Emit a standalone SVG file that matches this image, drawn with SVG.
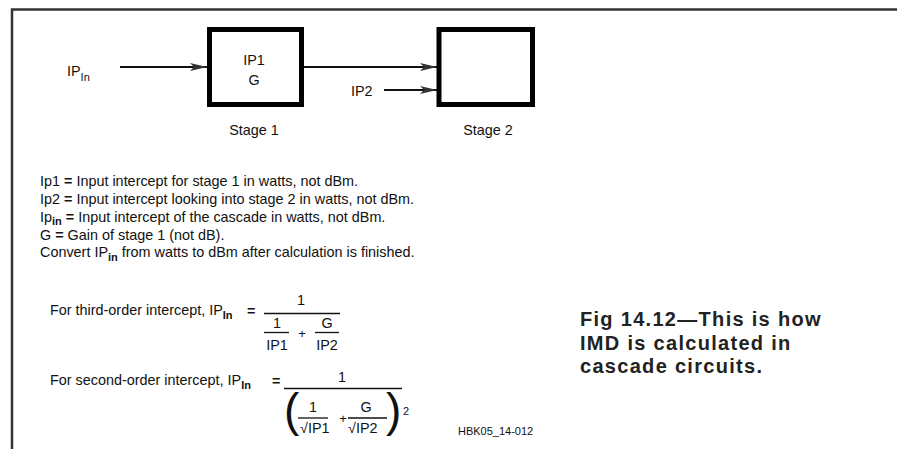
<svg xmlns="http://www.w3.org/2000/svg" width="897" height="449" viewBox="0 0 897 449">
<defs>
<style>
text{font-family:"Liberation Sans",Arial,sans-serif;fill:#111;}
.t{font-size:14.4px;}
.s{font-size:11px;}
.p{font-size:13px;}
.b{font-weight:bold;}
.box{fill:#fff;stroke:#000;stroke-width:5;}
.wire{stroke:#111;stroke-width:2;fill:none;}
.frac{stroke:#111;stroke-width:1.3;}
.cap{font-size:20px;font-weight:bold;letter-spacing:1.3px;fill:#222;}
</style>
<marker id="arr" viewBox="0 0 17 8" refX="17" refY="4" markerWidth="17" markerHeight="8" markerUnits="userSpaceOnUse" orient="auto">
<path d="M0,0 L17,4 L0,8 L4,4 z" fill="#333"/>
</marker>
</defs>
<rect width="897" height="449" fill="#fff"/>
<g id="frame">
<path d="M12,449 V9.5 H897" fill="none" stroke="#333" stroke-width="2.5"/>
</g>
<g id="connectors">
<line class="wire" x1="120" y1="67" x2="207" y2="67" marker-end="url(#arr)"/>
<line class="wire" x1="304" y1="67" x2="437" y2="67" marker-end="url(#arr)"/>
<line class="wire" x1="384" y1="90" x2="437" y2="90" marker-end="url(#arr)"/>
</g>
<g id="ipin-label">
<text class="t" x="67" y="76">IP<tspan class="s" dy="5">In</tspan></text>
</g>
<g id="stage1">
<rect class="box" x="209.5" y="29.5" width="92" height="75"/>
<text class="t" x="254" y="65" text-anchor="middle">IP1</text>
<text class="t" x="254" y="85" text-anchor="middle">G</text>
<text class="t" x="254" y="135" text-anchor="middle">Stage 1</text>
</g>
<g id="ip2-label">
<text class="t" x="351" y="96">IP2</text>
</g>
<g id="stage2">
<rect class="box" x="439" y="29.5" width="93.5" height="75"/>
<text class="t" x="488" y="135" text-anchor="middle">Stage 2</text>
</g>
<g id="definitions">
<text class="t" x="40" y="186">Ip1 <tspan class="b">=</tspan> Input intercept for stage 1 in watts, not dBm.</text>
<text class="t" x="40" y="204">Ip2 <tspan class="b">=</tspan> Input intercept looking into stage 2 in watts, not dBm.</text>
<text class="t" x="40" y="221.5">Ip<tspan class="s b" dy="3">in</tspan><tspan dy="-3"> </tspan><tspan class="b">=</tspan> Input intercept of the cascade in watts, not dBm.</text>
<text class="t" x="40" y="239.5">G <tspan class="b">=</tspan> Gain of stage 1 (not dB).</text>
<text class="t" x="40" y="257">Convert IP<tspan class="s b" dy="4">in</tspan><tspan dy="-4"> from watts to dBm after calculation is finished.</tspan></text>
</g>
<g id="formula1">
<text class="t" x="50" y="315">For third-order intercept, IP<tspan class="s b" dy="4">In</tspan></text>
<text class="t b" x="247" y="316">=</text>
<line class="frac" x1="264" y1="313.5" x2="340" y2="313.5"/>
<text class="t" x="301" y="305" text-anchor="middle">1</text>
<text class="t" x="277" y="328" text-anchor="middle">1</text>
<line class="frac" x1="264" y1="332.5" x2="289" y2="332.5"/>
<text class="t" x="277" y="350" text-anchor="middle">IP1</text>
<text class="p" x="302" y="338" text-anchor="middle">+</text>
<text class="t" x="327" y="328" text-anchor="middle">G</text>
<line class="frac" x1="315" y1="332.5" x2="339" y2="332.5"/>
<text class="t" x="327" y="350" text-anchor="middle">IP2</text>
</g>
<g id="formula2">
<text class="t" x="50" y="385">For second-order intercept, IP<tspan class="s b" dy="4">In</tspan></text>
<text class="t b" x="272" y="386">=</text>
<line class="frac" x1="284" y1="388.5" x2="402" y2="388.5"/>
<text class="t" x="342" y="382" text-anchor="middle">1</text>
<text x="284" y="426" font-size="46">(</text>
<text x="386" y="426" font-size="46">)</text>
<text class="s" x="403" y="415">2</text>
<text class="t" x="313" y="412" text-anchor="middle">1</text>
<line class="frac" x1="298" y1="418" x2="328" y2="418"/>
<text class="t" x="300" y="433">√IP1</text>
<text class="p" x="343" y="423" text-anchor="middle">+</text>
<text class="t" x="366" y="412" text-anchor="middle">G</text>
<line class="frac" x1="348" y1="418" x2="387" y2="418"/>
<text class="t" x="348" y="433">√IP2</text>
</g>
<g id="code">
<text class="s" x="458" y="435">HBK05_14-012</text>
</g>
<g id="caption">
<text class="cap" x="580" y="326">Fig 14.12—This is how</text>
<text class="cap" x="580" y="350">IMD is calculated in</text>
<text class="cap" x="580" y="373">cascade circuits.</text>
</g>
</svg>
